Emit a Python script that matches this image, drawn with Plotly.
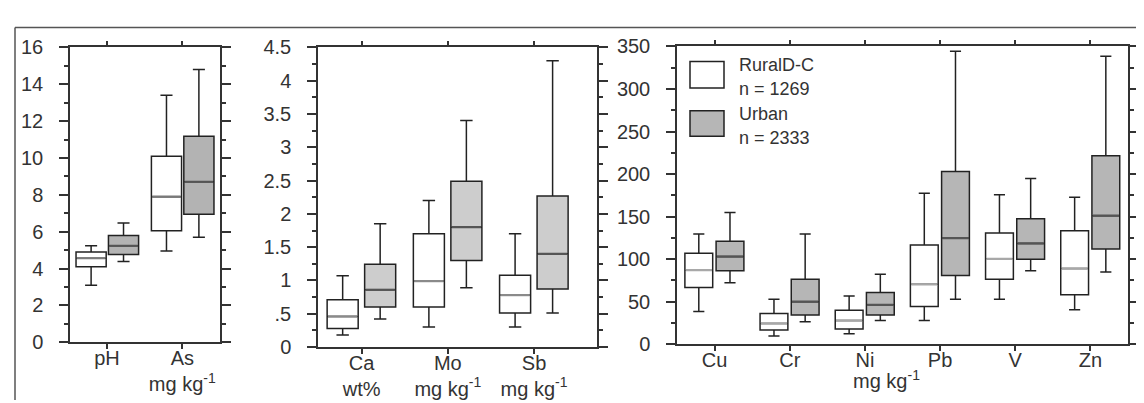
import plotly.graph_objects as go

# ---- data ----
left_cats = ["pH", "As<br>mg kg<sup>-1</sup>"]
left_rural_low = [3.1, 4.95]
left_rural_q1 = [4.1, 6.05]
left_rural_med = [4.56, 7.9]
left_rural_q3 = [4.9, 10.1]
left_rural_high = [5.24, 13.4]
left_urban_low = [4.39, 5.7]
left_urban_q1 = [4.76, 6.95]
left_urban_med = [5.24, 8.71]
left_urban_q3 = [5.79, 11.18]
left_urban_high = [6.47, 14.8]

mid_cats = ["Ca<br>wt%", "Mo<br>mg kg<sup>-1</sup>", "Sb<br>mg kg<sup>-1</sup>"]
mid_rural_low = [0.18, 0.30, 0.30]
mid_rural_q1 = [0.28, 0.60, 0.51]
mid_rural_med = [0.46, 0.99, 0.78]
mid_rural_q3 = [0.71, 1.70, 1.08]
mid_rural_high = [1.07, 2.20, 1.70]
mid_urban_low = [0.42, 0.89, 0.51]
mid_urban_q1 = [0.60, 1.30, 0.87]
mid_urban_med = [0.86, 1.80, 1.40]
mid_urban_q3 = [1.245, 2.49, 2.27]
mid_urban_high = [1.85, 3.40, 4.30]
mid_ticks = [0, 0.5, 1, 1.5, 2, 2.5, 3, 3.5, 4, 4.5]
mid_ticktext = ["0", ".5", "1", "1.5", "2", "2.5", "3", "3.5", "4", "4.5"]

right_cats = ["Cu", "Cr", "Ni", "Pb", "V", "Zn"]
right_rural_low = [38.5, 9.6, 12.2, 27.8, 53, 40.4]
right_rural_q1 = [66.7, 16.7, 17.8, 44.4, 76.3, 58.1]
right_rural_med = [87, 24.4, 27.8, 70.4, 100.4, 88.9]
right_rural_q3 = [107, 36, 40, 116.7, 130.7, 133.3]
right_rural_high = [129.6, 53, 56.7, 177.4, 175.6, 172.6]
right_urban_low = [72.2, 26.3, 27.8, 53, 86.3, 84.8]
right_urban_q1 = [86.3, 34.4, 34.4, 80.7, 100, 111.9]
right_urban_med = [103, 50, 46.3, 124.8, 118.5, 151.1]
right_urban_q3 = [121, 76.3, 60.7, 203, 147.4, 221.5]
right_urban_high = [154.8, 129.6, 82.2, 344.4, 194.8, 338.5]

legend_labels = ["RuralD-C", "n = 1269", "Urban", "n = 2333"]
right_unit = "mg kg<sup>-1</sup>"

W, H = 1144, 403
FONT = "Liberation Sans, Arial, sans-serif"
INK = "#333333"
EDGE = "#222222"
FS = 20


def px(x):
    return x / W


def py(y):
    return 1 - y / H


def add_group(fig, n, low, q1, med, q3, high, offset, width, fill, med_color, xa, ya):
    xs = [i + offset for i in range(n)]
    fig.add_trace(go.Box(
        x=xs, q1=q1, median=med, q3=q3, lowerfence=low, upperfence=high,
        width=width, whiskerwidth=0.4, fillcolor=fill,
        line=dict(color=EDGE, width=1.5), boxpoints=False,
        xaxis=xa, yaxis=ya, showlegend=False, hoverinfo="skip",
    ))
    # median bar drawn on top in its own grey
    mx, my = [], []
    for x, m in zip(xs, med):
        mx += [x - width / 2 + 0.01, x + width / 2 - 0.01, None]
        my += [m, m, None]
    fig.add_trace(go.Scatter(
        x=mx, y=my, mode="lines", line=dict(color=med_color, width=2.2),
        xaxis=xa, yaxis=ya, showlegend=False, hoverinfo="skip",
    ))


def axis_style():
    return dict(
        showline=True, linecolor=INK, linewidth=1.5, mirror="ticks",
        ticks="outside", tickcolor=INK, tickwidth=1.5,
        showgrid=False, zeroline=False,
        tickfont=dict(family=FONT, size=FS, color=INK),
    )


def main():
    fig = go.Figure()

    # left panel
    add_group(fig, 2, left_rural_low, left_rural_q1, left_rural_med, left_rural_q3,
              left_rural_high, -0.21, 0.40, "white", "#7a7a7a", "x", "y")
    add_group(fig, 2, left_urban_low, left_urban_q1, left_urban_med, left_urban_q3,
              left_urban_high, 0.22, 0.40, "#b3b3b3", "#555555", "x", "y")
    # middle panel
    add_group(fig, 3, mid_rural_low, mid_rural_q1, mid_rural_med, mid_rural_q3,
              mid_rural_high, -0.22, 0.36, "white", "#8a8a8a", "x2", "y2")
    add_group(fig, 3, mid_urban_low, mid_urban_q1, mid_urban_med, mid_urban_q3,
              mid_urban_high, 0.215, 0.36, "#cdcdcd", "#555555", "x2", "y2")
    # right panel
    add_group(fig, 6, right_rural_low, right_rural_q1, right_rural_med, right_rural_q3,
              right_rural_high, -0.21, 0.37, "white", "#a8a8a8", "x3", "y3")
    add_group(fig, 6, right_urban_low, right_urban_q1, right_urban_med, right_urban_q3,
              right_urban_high, 0.205, 0.37, "#b6b6b6", "#555555", "x3", "y3")

    ax = axis_style()
    fig.update_layout(
        width=W, height=H, margin=dict(l=0, r=0, t=0, b=0),
        paper_bgcolor="white", plot_bgcolor="white",
        boxmode="overlay", showlegend=False,
        font=dict(family=FONT, color=INK),
        xaxis=dict(ax, domain=[px(62), px(212)], range=[-0.49, 1.5],
                   tickvals=list(range(2)), ticktext=left_cats, ticklen=5,
                   ticklabelstandoff=-8),
        yaxis=dict(ax, domain=[py(342), py(30)], range=[0, 16], dtick=2, ticklen=9,
                   ticklabelstandoff=12,
                   minor=dict(ticks="outside", dtick=1, ticklen=4, tickcolor=INK)),
        xaxis2=dict(ax, anchor="y2", domain=[px(310), px(589)], range=[-0.506, 2.73],
                    tickvals=list(range(3)), ticktext=mid_cats, ticklen=5,
                    ticklabelstandoff=-8),
        yaxis2=dict(ax, anchor="x2", domain=[py(347), py(30)], range=[0, 4.5],
                    tickvals=mid_ticks, ticktext=mid_ticktext, ticklen=9,
                    ticklabelstandoff=12,
                    minor=dict(ticks="outside", dtick=0.25, tick0=0, ticklen=4, tickcolor=INK)),
        xaxis3=dict(ax, anchor="y3", domain=[px(669), px(1120)], range=[-0.5, 5.5],
                    tickvals=list(range(6)), ticktext=right_cats, ticklen=5,
                    ticklabelstandoff=-8),
        yaxis3=dict(ax, anchor="x3", domain=[py(344), py(29)], range=[0, 350], dtick=50,
                    ticklen=9, ticklabelstandoff=12,
                    minor=dict(ticks="outside", dtick=25, ticklen=4, tickcolor=INK)),
    )

    # unit label under the right panel
    fig.add_annotation(text=right_unit, xref="paper", yref="paper", x=px(878), y=py(381),
                       xanchor="center", yanchor="middle", showarrow=False,
                       font=dict(family=FONT, size=FS, color=INK))

    # outer frame (top + left edges only)
    fig.add_shape(type="line", xref="paper", yref="paper", x0=px(7), x1=1,
                  y0=py(9), y1=py(9), line=dict(color="#555555", width=1.5))
    fig.add_shape(type="line", xref="paper", yref="paper", x0=px(7), x1=px(7),
                  y0=py(9), y1=0, line=dict(color="#555555", width=1.5))

    # hand-made legend inside the right panel
    fig.add_shape(type="rect", xref="paper", yref="paper", x0=px(682), x1=px(716),
                  y0=py(73), y1=py(45), fillcolor="white", line=dict(color=EDGE, width=1.5))
    fig.add_shape(type="rect", xref="paper", yref="paper", x0=px(682), x1=px(716),
                  y0=py(124), y1=py(97), fillcolor="#b6b6b6", line=dict(color=EDGE, width=1.5))
    for label, ypix in zip(legend_labels, [49, 74, 101, 126]):
        fig.add_annotation(text=label, xref="paper", yref="paper", x=px(729), y=py(ypix),
                           xanchor="left", yanchor="middle", showarrow=False,
                           font=dict(family=FONT, size=18, color=INK))

    fig.write_html("out.html")


if __name__ == "__main__":
    main()
